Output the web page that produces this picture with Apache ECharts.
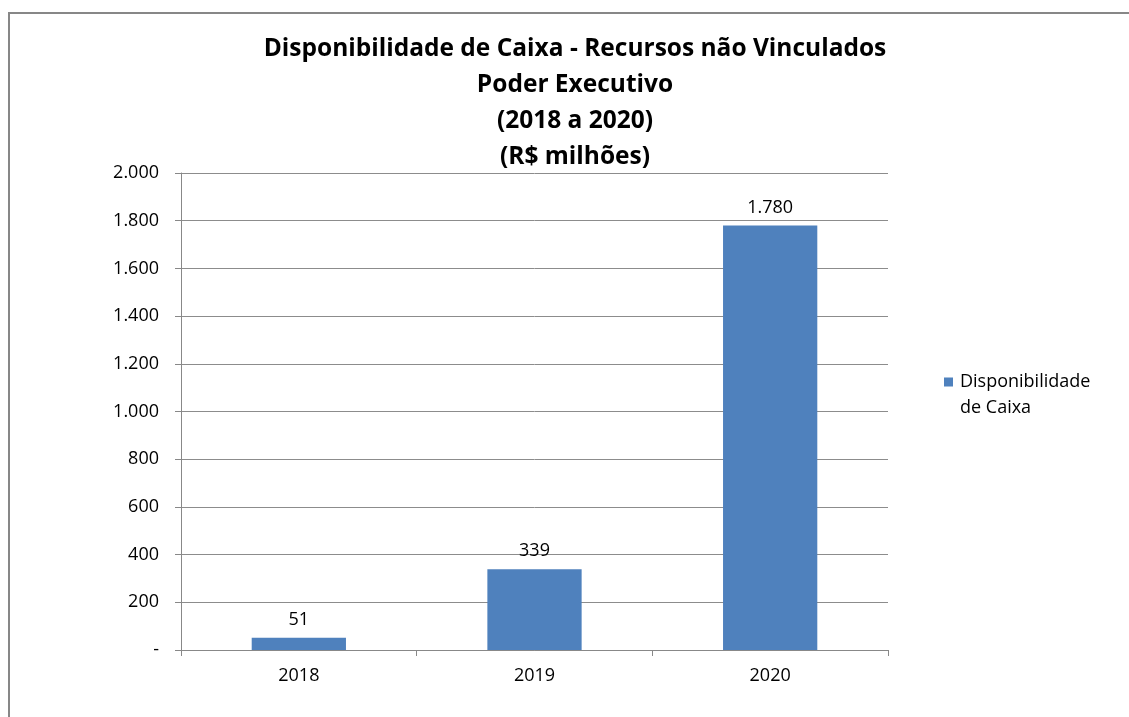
<!DOCTYPE html>
<html><head><meta charset="utf-8">
<script src="https://cdn.jsdelivr.net/npm/echarts@6/dist/echarts.min.js"></script>
<style>html,body{margin:0;padding:0;background:#fff}#c{width:1129px;height:717px}</style>
</head><body><div id="c"></div>
<script>
const categories = ['2018', '2019', '2020'];
const values = [51, 339, 1780];
const seriesName = 'Disponibilidade de Caixa';
const titleLines = ['Disponibilidade de Caixa - Recursos não Vinculados', 'Poder Executivo', '(2018 a 2020)', '(R$ milhões)'];

function fmt(v) {
  if (v === 0) return '-';
  return String(Math.round(v)).replace(/\B(?=(\d{3})+(?!\d))/g, '.');
}
const font = '"Open Sans", "Noto Sans", sans-serif';
const chart = echarts.init(document.getElementById('c'));
chart.setOption({
  animation: false,
  backgroundColor: '#fff',
  graphic: [{
    type: 'rect', shape: {x: 9, y: 13, width: 1200, height: 800},
    style: {fill: 'none', stroke: '#878787', lineWidth: 2}, silent: true
  }],
  title: {
    text: titleLines.join('\n'),
    left: 570, top: 26, textAlign: 'center',
    textStyle: {fontFamily: font, fontSize: 24.5, fontWeight: 'bold', color: '#000', lineHeight: 36}
  },
  legend: {
    left: 939, top: 364, orient: 'vertical',
    itemWidth: 9, itemHeight: 35, itemGap: 8,
    icon: 'path://M0,0L9,0L9,9L0,9Z M0,35L0.001,35',
    formatter: () => 'Disponibilidade\nde Caixa',
    textStyle: {fontFamily: font, fontSize: 18, color: '#000', lineHeight: 26, padding: [0,0,0,2]}
  },
  grid: {left: 181, top: 173, width: 707, height: 477, containLabel: false},
  xAxis: {
    type: 'category', data: categories,
    axisLine: {lineStyle: {color: '#888', width: 1}},
    axisTick: {show: true, length: 6, lineStyle: {color: '#888'}},
    axisLabel: {fontFamily: font, fontSize: 18, color: '#000', margin: 17}
  },
  yAxis: {
    type: 'value', min: 0, max: 2000, interval: 200,
    axisLine: {show: true, lineStyle: {color: '#888'}},
    axisTick: {show: true, length: 6, lineStyle: {color: '#888'}},
    splitLine: {lineStyle: {color: '#8c8c8c', width: 1}},
    axisLabel: {fontFamily: font, fontSize: 18, color: '#000', margin: 22, formatter: fmt}
  },
  series: [{
    name: seriesName, type: 'bar', data: values,
    barWidth: '40%',
    itemStyle: {color: '#4F81BD'},
    label: {show: true, position: 'top', distance: 9, fontFamily: font, fontSize: 18, color: '#000', formatter: p => fmt(p.value)}
  }]
});
</script></body></html>
